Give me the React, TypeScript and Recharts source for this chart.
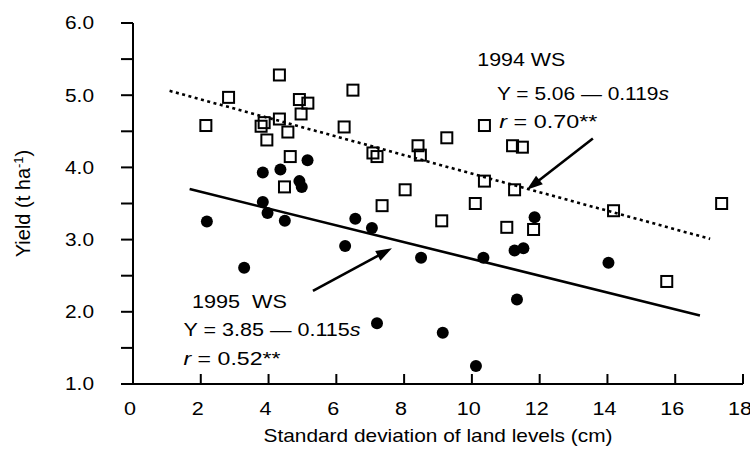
import React from 'react';
import { ScatterChart, Scatter, XAxis, YAxis, ReferenceLine, ReferenceDot } from 'recharts';

// 1994 WS (open squares): standard deviation of land levels (cm) vs yield (t/ha)
const ws1994 = [
  { s: 2.15, y: 4.58 }, { s: 2.82, y: 4.97 }, { s: 3.78, y: 4.57 }, { s: 3.87, y: 4.62 },
  { s: 3.95, y: 4.38 }, { s: 4.32, y: 5.28 }, { s: 4.32, y: 4.67 }, { s: 4.47, y: 3.73 },
  { s: 4.57, y: 4.49 }, { s: 4.64, y: 4.15 }, { s: 4.91, y: 4.94 }, { s: 4.96, y: 4.74 },
  { s: 5.16, y: 4.89 }, { s: 6.23, y: 4.56 }, { s: 6.49, y: 5.07 }, { s: 7.08, y: 4.2 },
  { s: 7.2, y: 4.15 }, { s: 7.35, y: 3.47 }, { s: 8.03, y: 3.69 }, { s: 8.41, y: 4.3 },
  { s: 8.48, y: 4.17 }, { s: 9.11, y: 3.26 }, { s: 9.26, y: 4.41 }, { s: 10.1, y: 3.5 },
  { s: 10.37, y: 4.58 }, { s: 10.37, y: 3.81 }, { s: 11.03, y: 3.17 }, { s: 11.2, y: 4.3 },
  { s: 11.26, y: 3.69 }, { s: 11.49, y: 4.28 }, { s: 11.82, y: 3.14 }, { s: 14.18, y: 3.4 },
  { s: 15.75, y: 2.42 }, { s: 17.37, y: 3.5 },
];

// 1995 WS (filled circles)
const ws1995 = [
  { s: 2.18, y: 3.25 }, { s: 3.28, y: 2.61 }, { s: 3.83, y: 3.93 }, { s: 3.83, y: 3.52 },
  { s: 3.97, y: 3.37 }, { s: 4.35, y: 3.97 }, { s: 4.48, y: 3.26 }, { s: 4.91, y: 3.81 },
  { s: 4.98, y: 3.73 }, { s: 5.15, y: 4.1 }, { s: 6.26, y: 2.91 }, { s: 6.56, y: 3.29 },
  { s: 7.05, y: 3.16 }, { s: 7.2, y: 1.84 }, { s: 8.5, y: 2.75 }, { s: 9.14, y: 1.71 },
  { s: 10.12, y: 1.25 }, { s: 10.34, y: 2.75 }, { s: 11.26, y: 2.85 }, { s: 11.33, y: 2.17 },
  { s: 11.52, y: 2.88 }, { s: 11.85, y: 3.31 }, { s: 14.03, y: 2.68 },
];

// fitted line end points as drawn
const fit1994 = [{ x: 1.08, y: 5.06 }, { x: 17.03, y: 3.01 }];
const fit1995 = [{ x: 1.67, y: 3.7 }, { x: 16.73, y: 1.95 }];

// arrows (tail, head)
const arrow1994 = [{ x: 13.57, y: 4.4 }, { x: 11.62, y: 3.69 }];
const arrow1995 = [{ x: 5.31, y: 2.29 }, { x: 7.64, y: 2.88 }];

const xTicks = [0, 2, 4, 6, 8, 10, 12, 14, 16, 18];
const yTicks = [1, 1.5, 2, 2.5, 3, 3.5, 4, 4.5, 5, 5.5, 6];

const xTitle = 'Standard deviation of land levels (cm)';

const FONT = "'Liberation Sans', Arial, Helvetica, sans-serif";

const SquareShape = (p: any) => (
  <rect x={p.cx - 5.5} y={p.cy - 5.5} width={11} height={11} fill="none" stroke="#000" strokeWidth={2} />
);

const CircleShape = (p: any) => <circle cx={p.cx} cy={p.cy} r={6} fill="#000" />;

const ArrowShape = (p: any) => {
  const { x1, y1, x2, y2 } = p;
  const ang = Math.atan2(y2 - y1, x2 - x1);
  const len = 16;
  const half = 5.5;
  const bx = x2 - len * Math.cos(ang);
  const by = y2 - len * Math.sin(ang);
  const px = -Math.sin(ang) * half;
  const py = Math.cos(ang) * half;
  return (
    <g>
      <line x1={x1} y1={y1} x2={bx + 2 * Math.cos(ang)} y2={by + 2 * Math.sin(ang)} stroke="#000" strokeWidth={2.6} />
      <polygon points={`${x2},${y2} ${bx + px},${by + py} ${bx - px},${by - py}`} fill="#000" />
    </g>
  );
};

const XTick = (p: any) => {
  const v = p.payload.value;
  const label = String(v);
  return (
    <g>
      <line x1={p.x} y1={p.y} x2={p.x} y2={p.y - 10} stroke="#000" strokeWidth={2} />
      <text
        x={p.x - 3}
        y={p.y + 31}
        textAnchor="middle"
        fontFamily={FONT}
        fontSize={18}
        fill="#000"
        textLength={12 * label.length}
        lengthAdjust="spacingAndGlyphs"
      >
        {label}
      </text>
    </g>
  );
};

const YTick = (p: any) => {
  const v = p.payload.value;
  if (!Number.isInteger(v)) return <g />;
  return (
    <text
      x={p.x}
      y={p.y}
      dy="0.36em"
      textAnchor="end"
      fontFamily={FONT}
      fontSize={18}
      fill="#000"
      textLength={29}
      lengthAdjust="spacingAndGlyphs"
    >
      {v.toFixed(1)}
    </text>
  );
};

const XLabel = (p: any) => {
  const vb = p.viewBox || { x: 133, y: 384, width: 610, height: 70 };
  return (
    <text
      x={vb.x + vb.width / 2}
      y={vb.y + 58}
      textAnchor="middle"
      fontFamily={FONT}
      fontSize={19}
      fill="#000"
      textLength={349}
      lengthAdjust="spacingAndGlyphs"
    >
      {xTitle}
    </text>
  );
};

const YLabel = (p: any) => {
  const vb = p.viewBox || { x: 0, y: 23, width: 133, height: 361 };
  const cx = vb.x + 23;
  const cy = vb.y + vb.height / 2;
  return (
    <text
      x={cx}
      y={cy}
      dy="0.36em"
      textAnchor="middle"
      fontFamily={FONT}
      fontSize={20}
      fill="#000"
      transform={`rotate(-90, ${cx}, ${cy})`}
    >
      Yield (t ha
      <tspan dy={-7} fontSize={13}>-1</tspan>
      <tspan dy={7}>)</tspan>
    </text>
  );
};

const annText = (content: React.ReactNode, len: number) => (p: any) => (
  <text
    x={p.cx}
    y={p.cy}
    fontFamily={FONT}
    fontSize={19}
    fill="#000"
    textLength={len}
    lengthAdjust="spacingAndGlyphs"
    style={{ whiteSpace: 'pre' }}
  >
    {content}
  </text>
);

export default function App() {
  return (
    <div style={{ position: 'absolute', left: 0, top: 0, width: 750, height: 454, background: '#fff' }}>
      <ScatterChart width={750} height={454} margin={{ top: 23, right: 7, bottom: 0, left: 0 }}>
        <XAxis
          type="number"
          dataKey="s"
          domain={[0, 18]}
          ticks={xTicks}
          interval={0}
          height={70}
          axisLine={{ stroke: '#000', strokeWidth: 2 }}
          tickLine={false}
          tickSize={0}
          tickMargin={0}
          tick={XTick}
          label={XLabel}
          allowDataOverflow
        />
        <YAxis
          type="number"
          dataKey="y"
          domain={[1, 6]}
          ticks={yTicks}
          interval={0}
          width={133}
          axisLine={{ stroke: '#000', strokeWidth: 2 }}
          tickLine={{ stroke: '#000', strokeWidth: 2 }}
          tickSize={12}
          tickMargin={27}
          tick={YTick}
          label={YLabel}
          allowDataOverflow
        />
        <ReferenceLine
          segment={fit1994}
          stroke="#000"
          strokeWidth={2.6}
          strokeDasharray="3 3.5"
          ifOverflow="visible"
        />
        <ReferenceLine segment={fit1995} stroke="#000" strokeWidth={2.6} ifOverflow="visible" />
        <ReferenceLine segment={arrow1994} shape={ArrowShape} ifOverflow="visible" />
        <ReferenceLine segment={arrow1995} shape={ArrowShape} ifOverflow="visible" />
        <Scatter data={ws1994} shape={SquareShape} isAnimationActive={false} />
        <Scatter data={ws1995} shape={CircleShape} isAnimationActive={false} />
        <ReferenceDot x={10.16} y={5.41} r={0} ifOverflow="visible" shape={annText('1994 WS', 88)} />
        <ReferenceDot
          x={10.74}
          y={4.94}
          r={0}
          ifOverflow="visible"
          shape={annText(<>Y = 5.06 — 0.119<tspan fontStyle="italic">s</tspan></>, 172)}
        />
        <ReferenceDot
          x={10.81}
          y={4.54}
          r={0}
          ifOverflow="visible"
          shape={annText(<><tspan fontStyle="italic">r</tspan> = 0.70**</>, 98)}
        />
        <ReferenceDot x={1.74} y={2.05} r={0} ifOverflow="visible" shape={annText('1995  WS', 95)} />
        <ReferenceDot
          x={1.49}
          y={1.66}
          r={0}
          ifOverflow="visible"
          shape={annText(<>Y = 3.85 — 0.115<tspan fontStyle="italic">s</tspan></>, 177)}
        />
        <ReferenceDot
          x={1.49}
          y={1.26}
          r={0}
          ifOverflow="visible"
          shape={annText(<><tspan fontStyle="italic">r</tspan> = 0.52**</>, 97)}
        />
      </ScatterChart>
    </div>
  );
}
